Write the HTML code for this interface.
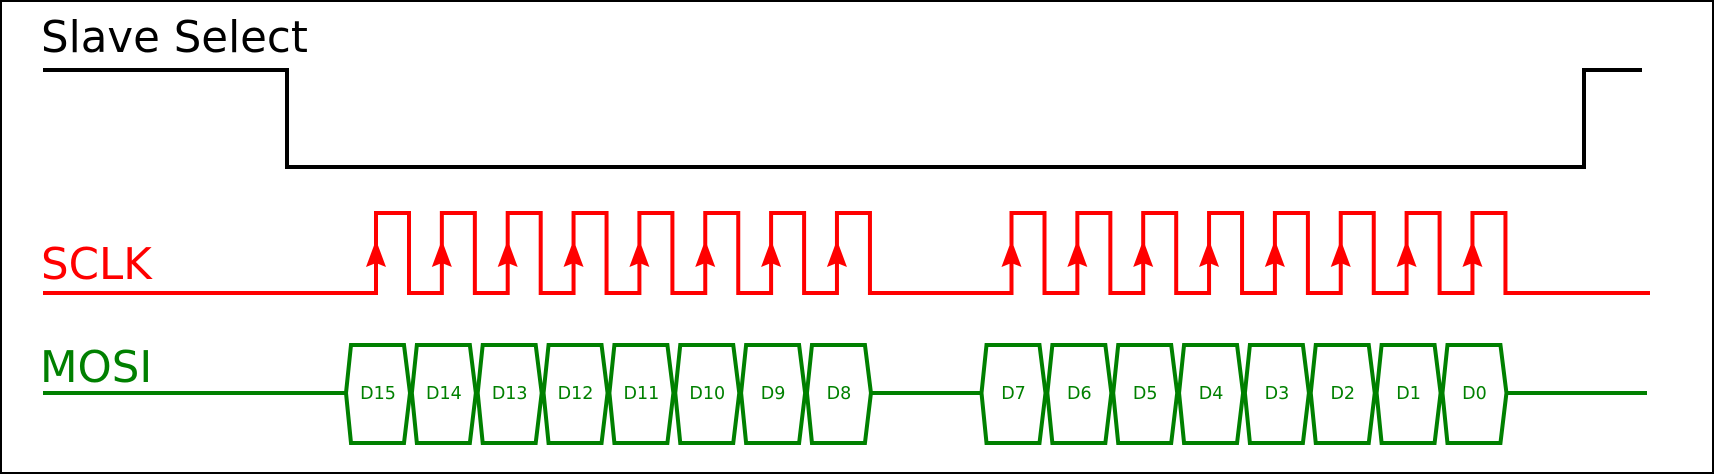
<!DOCTYPE html>
<html><head><meta charset="utf-8"><style>
html,body{margin:0;padding:0;background:#fff}
svg{display:block}
text{font-family:"DejaVu Sans","Liberation Sans",sans-serif}
</style></head><body>
<svg id="chart" width="1714" height="474" viewBox="0 0 1714 474" xmlns="http://www.w3.org/2000/svg">
<rect x="1" y="1" width="1712" height="472" fill="#fff" stroke="#000" stroke-width="2"/>
<text x="41" y="52" font-size="43.5" fill="#000">Slave Select</text>
<text x="41" y="279" font-size="43.5" fill="#f00">SCLK</text>
<text x="40" y="382" font-size="43.5" fill="#008000">MOSI</text>
<g id="g"></g>
</svg>
<script>
const bitLabels = ["D15","D14","D13","D12","D11","D10","D9","D8","D7","D6","D5","D4","D3","D2","D1","D0"];
const group1Start = 376, group2Start = 1011.5, period = 65.85;
const ssFall = 287, ssRise = 1584;
const NS="http://www.w3.org/2000/svg";
const g=document.getElementById('g');
function mk(tag,attrs){const e=document.createElementNS(NS,tag);for(const k in attrs)e.setAttribute(k,attrs[k]);g.appendChild(e);return e;}
const rises = bitLabels.map((l,i)=> i<8 ? group1Start+i*period : group2Start+(i-8)*period);
let ss=mk('path',{d:`M43 70 H${ssFall} V167 H${ssRise} V70 H1642`,fill:'none',stroke:'#000','stroke-width':4});


const hi=213, lo=293, hw=33;
let d='M43 '+lo;
rises.forEach(r=>{d+=` H${r} V${hi} H${r+hw} V${lo}`;});
d+=' H1650';
let ck=mk('path',{d:d,fill:'none',stroke:'#f00','stroke-width':4});


rises.forEach((r,i)=>{
  let a=mk('polygon',{points:`${r},240 ${r-10},267 ${r},263 ${r+10},267`,fill:'#f00'});
  
  
});
const yTop=345, yMid=393, yBot=443;
let md=`M43 ${yMid} H${rises[0]-30} M${rises[7]+34} ${yMid} H${rises[8]-30} M${rises[15]+34} ${yMid} H1647`;
let ml=mk('path',{d:md,fill:'none',stroke:'#008000','stroke-width':4});


rises.forEach((r,i)=>{
  const L=r-30,R=r+34;
  let p=mk('polygon',{points:`${L},${yMid} ${L+5},${yTop} ${R-6},${yTop} ${R},${yMid} ${R-6},${yBot} ${L+5},${yBot}`,fill:'#fff',stroke:'#008000','stroke-width':4});
  
  
  let t=mk('text',{x:(L+R)/2,y:yMid+6,'font-size':17.5,fill:'#008000','text-anchor':'middle'});
  t.textContent=bitLabels[i];
  
  
});
</script>
</body></html>
